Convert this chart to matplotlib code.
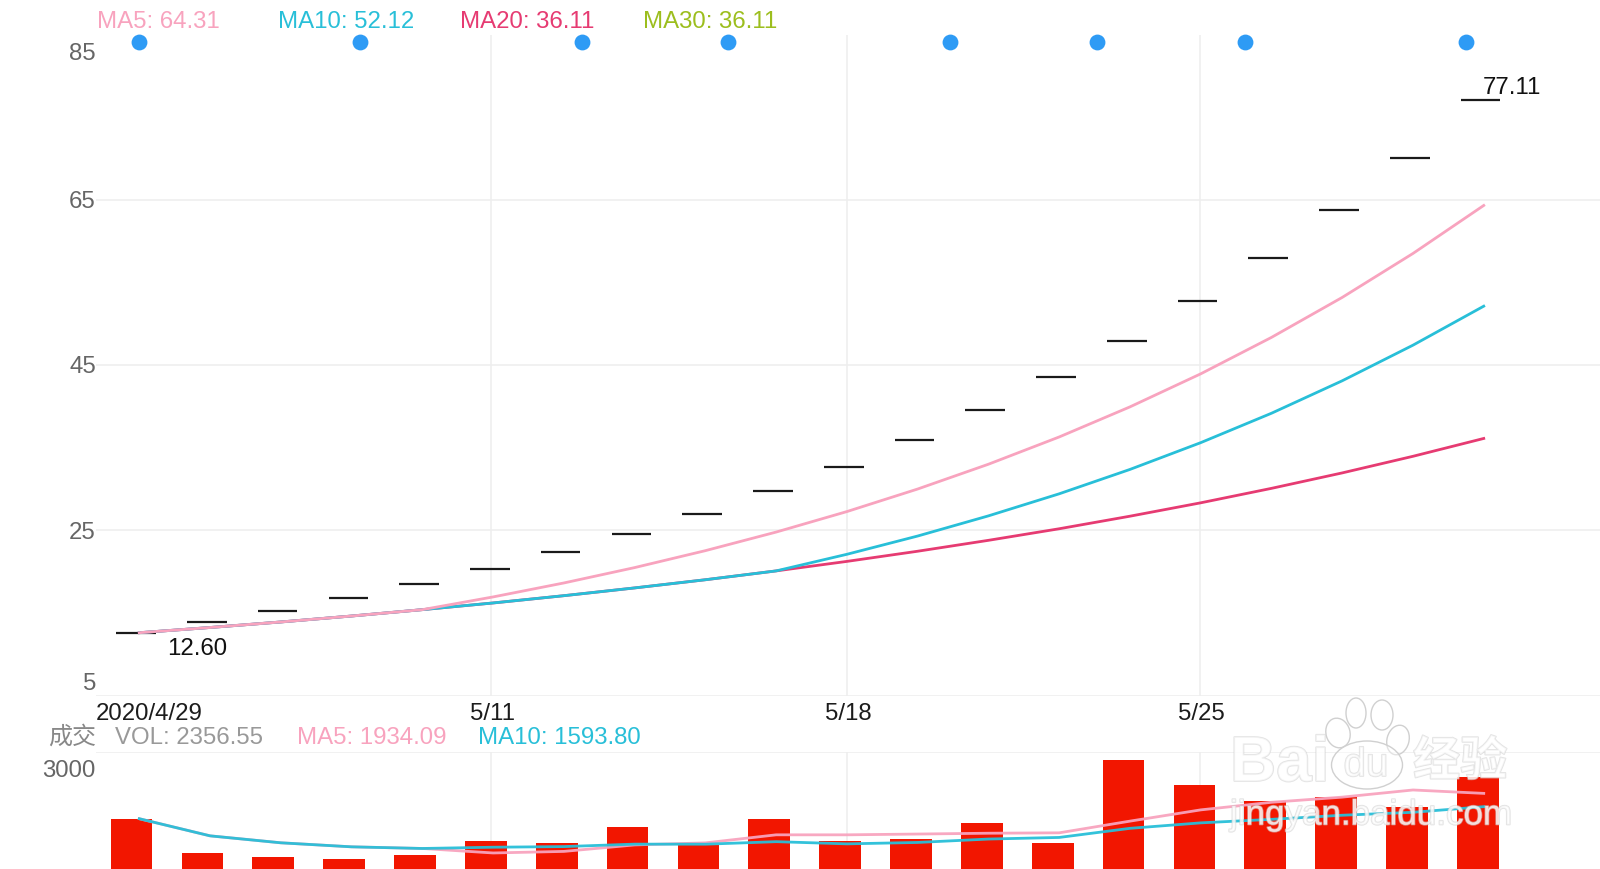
import numpy as np
import matplotlib
matplotlib.use("Agg")
import matplotlib.pyplot as plt
from matplotlib.patches import Ellipse
from matplotlib.transforms import ScaledTranslation, IdentityTransform
import matplotlib.patheffects as pe

plt.rcParams['font.family'] = ['Liberation Sans', 'Noto Sans CJK SC', 'DejaVu Sans']

price = [12.6, 13.86, 15.25, 16.77, 18.45, 20.3, 22.33, 24.56, 27.0, 29.7,
         32.7, 35.97, 39.6, 43.5, 47.9, 52.7, 58.0, 63.8, 70.1, 77.11]
ma5 = [12.6, 13.23, 13.9, 14.62, 15.39, 16.93, 18.62, 20.48, 22.53, 24.78,
       27.26, 29.99, 32.99, 36.29, 39.93, 43.93, 48.34, 53.18, 58.5, 64.31]
ma10 = [12.6, 13.23, 13.9, 14.62, 15.39, 16.2, 17.08, 18.02, 19.01, 20.08,
        22.09, 24.3, 26.74, 29.41, 32.36, 35.6, 39.16, 43.09, 47.4, 52.12]
ma20 = [12.6, 13.23, 13.9, 14.62, 15.39, 16.2, 17.08, 18.02, 19.01, 20.08,
        21.23, 22.46, 23.78, 25.18, 26.7, 28.32, 30.07, 31.94, 33.95, 36.11]
vol = [1286, 410, 315, 256, 359, 719, 668, 1080, 616, 1286,
       719, 771, 1183, 668, 2778, 2161, 1739, 1842, 1584, 2356.55]
vol_ma5 = [1286, 848, 670, 567, 525, 410, 450, 616, 668, 874,
           874, 894, 915, 925, 1224, 1512, 1706, 1838, 2021, 1934.09]
vol_ma10 = [1286, 848, 670, 567, 525, 557, 573, 636, 634, 699,
            643, 679, 766, 807, 1040, 1180, 1270, 1375, 1450, 1593.8]
dot_pos = [0, 3.115, 6.25, 8.32, 11.46, 13.54, 15.63, 18.75]
dot_val = [84.15] * 8
price_ticks = [85, 65, 45, 25, 5]
vol_ticks = [3000]
date_pos = [0, 4.97, 9.995, 14.995]
date_labels = ['2020/4/29', '5/11', '5/18', '5/25']

W, H = 1600, 869
PINK, TEAL, CRIM, GREEN = '#F8A3BE', '#28BFD8', '#E63B72', '#9CBE1E'
GRID = '#EEEEEE'
FS = 17.3

fig = plt.figure(figsize=(W / 100, H / 100), dpi=100, facecolor='white')


def axpx(l, t, r, b):
    return fig.add_axes([l / W, 1 - b / H, (r - l) / W, (b - t) / H])


def shift(label, dy):
    label.set_transform(label.get_transform() + ScaledTranslation(0, dy / 100, fig.dpi_scale_trans))


idx = np.arange(len(price))
LEFT, RIGHT = 96, 1600
x0, step = 139.3, 70.76
xlim = ((LEFT - x0) / step, (RIGHT - x0) / step)

ax = axpx(LEFT, 34.5, RIGHT, 695.5)
ax.set_xlim(xlim)
ax.set_ylim(5, 85)
for s in ax.spines.values():
    s.set_visible(False)
ax.set_yticks(price_ticks)
ax.set_yticklabels([str(t) for t in price_ticks])
ax.set_xticks(date_pos[1:])
ax.set_xticklabels([])
ax.grid(True, color=GRID, lw=1.1)
ax.set_axisbelow(True)
ax.tick_params(length=0, pad=0, labelsize=FS, labelcolor='#666666')
for lab, t in zip(ax.get_yticklabels(), price_ticks):
    lab.set_va('center')
    shift(lab, {85: -20, 5: 11}.get(t, -2.5))

ax.hlines(price, idx - 0.045 - 0.28, idx - 0.045 + 0.28, color='#1a1a1a', lw=1.6, zorder=3)
ax.plot(idx, ma20, color=CRIM, lw=2.0, zorder=4)
ax.plot(idx, ma10, color=TEAL, lw=2.0, zorder=5)
ax.plot(idx, ma5, color=PINK, lw=2.0, zorder=6)
ax.scatter(dot_pos, dot_val, s=130, color='#2E9BF5', linewidths=0, zorder=7, clip_on=False)

ax.annotate('12.60', xy=(idx[0], price[0]), xytext=(27.5, -16), textcoords='offset pixels',
            fontsize=FS, color='#111111', ha='left', va='center')
ax.annotate('77.11', xy=(idx[-1], price[-1]), xytext=(-1, 12), textcoords='offset pixels',
            fontsize=FS, color='#111111', ha='left', va='center')

for p, t in zip(date_pos, date_labels):
    ha = 'left' if p == 0 else 'center'
    xp = LEFT if p == 0 else x0 + p * step + 1.5
    fig.text(xp / W, 1 - 714 / H, t, fontsize=FS, color='#1c1c1c', ha=ha, va='center')

for t, c, xp in [('MA5: 64.31', PINK, 97), ('MA10: 52.12', TEAL, 278.5),
                 ('MA20: 36.11', CRIM, 460), ('MA30: 36.11', GREEN, 643)]:
    fig.text(xp / W, 1 - 21.5 / H, t, fontsize=FS, color=c, ha='left', va='center')

for t, c, xp in [('VOL: 2356.55', '#999999', 115), ('MA5: 1934.09', PINK, 297),
                 ('MA10: 1593.80', TEAL, 478.5)]:
    fig.text(xp / W, 1 - 738 / H, t, fontsize=FS, color=c, ha='left', va='center')
fig.text(96 / W, 1 - 737 / H, '成交', fontsize=FS, color='#888888', ha='right', va='center')

av = axpx(LEFT, 751.7, RIGHT, 869)
av.set_xlim(xlim)
av.set_ylim(0, 3000)
for s in av.spines.values():
    s.set_visible(False)
av.set_yticks(vol_ticks)
av.set_yticklabels(['3000'])
av.set_xticks(date_pos[1:])
av.set_xticklabels([])
av.grid(True, color=GRID, lw=1.1)
av.set_axisbelow(True)
av.tick_params(length=0, pad=0, labelsize=FS, labelcolor='#666666')
for lab in av.get_yticklabels():
    lab.set_va('center')
    shift(lab, -19)
av.bar(idx * 1.0014 - 0.109, vol, width=0.59, color='#F21600', linewidth=0, zorder=3)
av.plot(idx, vol_ma5, color=PINK, lw=2.0, alpha=0.95, zorder=4, clip_on=False)
av.plot(idx, vol_ma10, color=TEAL, lw=2.0, alpha=0.95, zorder=5, clip_on=False)

# watermark
wm = dict(color='white', alpha=0.6, zorder=20,
          path_effects=[pe.withStroke(linewidth=1.2, foreground='#D0D0D0')])
for cx, cy, w, h, ang in [(1356, 713, 20, 30, 0), (1382, 715, 22, 30, 0), (1338, 733, 24, 30, 15),
                          (1398, 740, 22, 30, -15), (1367, 765, 71, 48, 0)]:
    fig.add_artist(Ellipse((cx, H - cy), w, h, angle=ang, transform=IdentityTransform(),
                           facecolor=(1, 1, 1, 0.4), edgecolor='#D0D0D0', lw=1.0, zorder=19))
fig.text(1230 / W, 1 - 764 / H, 'Bai', fontsize=46, fontweight='bold', ha='left', va='center', **wm)
fig.text(1366 / W, 1 - 765 / H, 'du', fontsize=29, ha='center', va='center', **wm)
fig.text(1413 / W, 1 - 763 / H, '经验', fontsize=34, fontweight='bold', ha='left', va='center', **wm)
fig.text(1230 / W, 1 - 815 / H, 'jingyan.baidu.com', fontsize=25.2, ha='left', va='center', **wm)

fig.savefig('out.png', dpi=100, facecolor='white')
